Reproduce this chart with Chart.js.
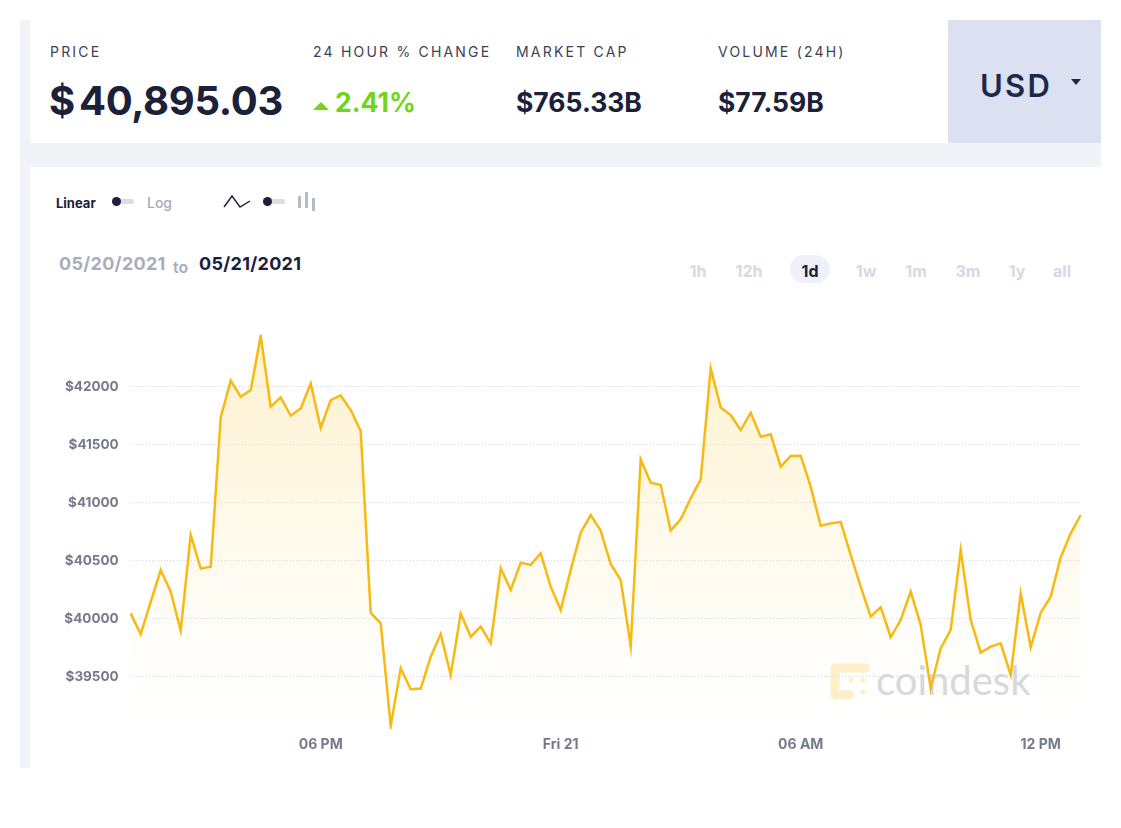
<!DOCTYPE html>
<html>
<head>
<meta charset="utf-8">
<script src="https://cdn.jsdelivr.net/npm/chart.js@4"></script>
<style>
  body { margin: 0; background: #fff; font-family: Inter, "Open Sans", sans-serif; color: #1b2139; }
  .abs { position: absolute; white-space: nowrap; }
  .lbl { font-size: 14px; letter-spacing: 2.2px; color: #3d4152; line-height: 16px; }
  .val { font-weight: 700; font-size: 26.5px; line-height: 30px; }
  .rng { font-weight: 700; font-size: 16px; color: #d5d9e6; line-height: 20px; transform: translateX(-50%); }
</style>
</head>
<body>
<div class="abs" style="left:20px;top:20px;width:1081px;height:748px;background:#f0f3f8"></div>
<div class="abs" style="left:30px;top:20px;width:918px;height:123px;background:#fff"></div>
<div class="abs" style="left:948px;top:20px;width:153px;height:123px;background:#dce1f2"></div>
<div class="abs" style="left:30px;top:167px;width:1071px;height:601px;background:#fff"></div>

<div class="abs lbl" style="left:50px;top:44px">PRICE</div>
<div class="abs" style="left:49px;top:78px;font-size:40px;font-weight:700;line-height:46px;letter-spacing:-0.3px">$<span style="margin-left:4px">40,895.03</span></div>
<div class="abs lbl" style="left:313px;top:44px">24 HOUR % CHANGE</div>
<div class="abs" style="left:313px;top:102px;width:0;height:0;border-left:8px solid transparent;border-right:8px solid transparent;border-bottom:8px solid #72d417"></div>
<div class="abs val" style="left:335px;top:87px;color:#72d417">2.41%</div>
<div class="abs lbl" style="left:516px;top:44px">MARKET CAP</div>
<div class="abs val" style="left:516px;top:87px">$765.33B</div>
<div class="abs lbl" style="left:718px;top:44px">VOLUME (24H)</div>
<div class="abs val" style="left:718px;top:87px">$77.59B</div>
<div class="abs" style="left:980px;top:67px;font-size:31px;font-weight:600;letter-spacing:2.3px;line-height:38px;color:#1b2a4a">USD</div>
<div class="abs" style="left:1071px;top:79px;width:0;height:0;border-left:5px solid transparent;border-right:5px solid transparent;border-top:6px solid #1b2a4a"></div>

<div class="abs" style="left:56px;top:195px;font-size:13px;font-weight:700;line-height:16px">Linear</div>
<div class="abs" style="left:112px;top:199px;width:22px;height:5px;border-radius:3px;background:#dcdee5"></div>
<div class="abs" style="left:112px;top:197px;width:9px;height:9px;border-radius:50%;background:#1b2139"></div>
<div class="abs" style="left:147px;top:195px;font-size:14px;font-weight:500;line-height:16px;color:#a6aab5">Log</div>
<svg class="abs" style="left:223px;top:193px" width="30" height="18"><polyline points="1,14 9,3 17,14 27,8" fill="none" stroke="#1b2139" stroke-width="1.4"/></svg>
<div class="abs" style="left:263px;top:199px;width:22px;height:5px;border-radius:3px;background:#dcdee5"></div>
<div class="abs" style="left:263px;top:197px;width:9px;height:9px;border-radius:50%;background:#1b2139"></div>
<div class="abs" style="left:298px;top:196px;width:3px;height:12px;background:#b6bac5"></div>
<div class="abs" style="left:305px;top:192px;width:3px;height:16px;background:#b6bac5"></div>
<div class="abs" style="left:312px;top:198px;width:3px;height:13px;background:#b6bac5"></div>

<div class="abs" style="left:59px;top:253px;font-size:18px;font-weight:700;line-height:22px;letter-spacing:0.3px;color:#a9adb8">05/20/2021</div>
<div class="abs" style="left:173px;top:257px;font-size:16px;font-weight:600;line-height:20px;color:#a9adb8">to</div>
<div class="abs" style="left:199px;top:253px;font-size:18px;font-weight:700;line-height:22px;letter-spacing:0.3px">05/21/2021</div>

<div class="abs" style="left:790px;top:255px;width:40px;height:28px;border-radius:14px;background:#eef1f8"></div>
<div class="abs rng" style="left:698px;top:261px">1h</div>
<div class="abs rng" style="left:749px;top:261px">12h</div>
<div class="abs rng" style="left:810px;top:261px;color:#1b2139">1d</div>
<div class="abs rng" style="left:866px;top:261px">1w</div>
<div class="abs rng" style="left:916px;top:261px">1m</div>
<div class="abs rng" style="left:968px;top:261px">3m</div>
<div class="abs rng" style="left:1017px;top:261px">1y</div>
<div class="abs rng" style="left:1062px;top:261px">all</div>

<!-- watermark sits behind the chart line -->
<svg class="abs" style="left:829px;top:662px" width="42" height="40">
  <g fill="none" stroke="#fdf0c9" stroke-width="9" stroke-linecap="round">
    <line x1="6" y1="6" x2="36" y2="6"/>
    <line x1="6" y1="6" x2="6" y2="33"/>
    <line x1="6" y1="33" x2="20" y2="33"/>
  </g>
  <g fill="#fdf0c9"><circle cx="22" cy="18" r="2.5"/><circle cx="34" cy="18" r="2.5"/><circle cx="34" cy="30" r="2.5"/></g>
</svg>
<div class="abs" style="left:876px;top:656px;font-family:Lato,sans-serif;font-size:40px;line-height:48px;color:#d6d9e1">coindesk</div>

<div class="abs" style="left:30px;top:300px;width:1071px;height:460px">
  <canvas id="priceChart"></canvas>
</div>

<script>
// BTC price, 15 min steps from 05/20 13:15 to 05/21 13:00
var prices = [
    40048, 39870, 40146, 40421, 40235, 39899, 40723, 40433, 40450, 41736,
    42052, 41914, 41971, 42439, 41828, 41908, 41750, 41813, 42029, 41647,
    41885, 41925, 41799, 41618, 40054, 39962, 39078, 39575, 39394, 39400,
    39675, 39870, 39517, 40048, 39847, 39934, 39790, 40436, 40249, 40485,
    40465, 40565, 40278, 40077, 40422, 40743, 40895, 40760, 40473, 40335,
    39767, 41374, 41173, 41153, 40760, 40858, 41039, 41202, 42158, 41822,
    41756, 41627, 41776, 41569, 41590, 41311, 41403, 41406, 41139, 40803,
    40823, 40835, 40551, 40278, 40020, 40100, 39842, 39991, 40235, 39948,
    39403, 39747, 39905, 40594, 39991, 39710, 39761, 39790, 39517, 40221,
    39756, 40054, 40192, 40531, 40737, 40895
];
var yTicks = [39500, 40000, 40500, 41000, 41500, 42000];
var tickNames = { '18:00': '06 PM', '00:00': 'Fri 21', '06:00': '06 AM', '12:00': '12 PM' };

var times = [];
for (var i = 0; i < prices.length; i++) {
    var m = 13 * 60 + 15 + i * 15;
    var h = Math.floor(m / 60) % 24, mm = m % 60;
    times.push((h < 10 ? '0' : '') + h + ':' + (mm < 10 ? '0' : '') + mm);
}

var ctx = document.getElementById('priceChart').getContext('2d');
new Chart(ctx, {
    type: 'line',
    data: {
        labels: times,
        datasets: [{
            data: prices,
            borderColor: '#f7b912',
            borderWidth: 2.5,
            pointRadius: 0,
            tension: 0,
            fill: 'start',
            backgroundColor: function (context) {
                var area = context.chart.chartArea;
                if (!area) return 'rgba(252,200,60,0.15)';
                var g = context.chart.ctx.createLinearGradient(0, area.top, 0, area.bottom);
                g.addColorStop(0, 'rgba(252,198,50,0.24)');
                g.addColorStop(0.75, 'rgba(252,198,50,0.03)');
                g.addColorStop(1, 'rgba(252,198,50,0)');
                return g;
            }
        }]
    },
    options: {
        responsive: true,
        maintainAspectRatio: false,
        animation: false,
        layout: { padding: { top: 34.5, right: 20.3, left: 0, bottom: 0 } },
        plugins: { legend: { display: false }, tooltip: { enabled: false } },
        scales: {
            x: {
                offset: false,
                grid: { display: false, drawTicks: false },
                border: { display: false },
                afterFit: function (scale) { scale.height = 30.8; },
                ticks: {
                    autoSkip: false,
                    maxRotation: 0,
                    padding: 7,
                    color: '#747a8a',
                    font: { family: 'Inter', size: 14, weight: 'bold' },
                    callback: function (value) {
                        return tickNames[this.getLabelForValue(value)] || null;
                    }
                }
            },
            y: {
                min: 39050,
                max: 42450,
                grid: { display: true, color: '#d3d7ea', drawTicks: false, lineWidth: 1 },
                border: { display: false, dash: [1, 2] },
                afterFit: function (scale) { scale.width = 100.7; },
                afterBuildTicks: function (scale) {
                    scale.ticks = yTicks.map(function (v) { return { value: v }; });
                },
                ticks: {
                    autoSkip: false,
                    padding: 12,
                    color: '#747a8a',
                    font: { family: 'Inter', size: 13.5, weight: 'bold' },
                    callback: function (value) { return '$' + value; }
                }
            }
        }
    }
});
</script>
</body>
</html>
